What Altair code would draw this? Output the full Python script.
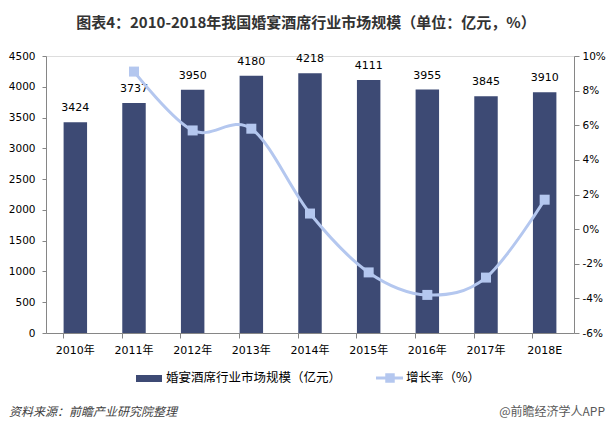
import altair as alt
import pandas as pd

years = ["2010年", "2011年", "2012年", "2013年", "2014年", "2015年", "2016年", "2017年", "2018E"]
market = [3424, 3737, 3950, 4180, 4218, 4111, 3955, 3845, 3910]
growth = [None, 9.1, 5.7, 5.8, 0.9, -2.5, -3.8, -2.8, 1.7]

BAR = "#3d4a74"
LINE = "#b4c7ef"
AXIS = "#868686"
FONT = "DejaVu Sans, Noto Sans CJK SC"
CJK = "Noto Sans CJK SC, DejaVu Sans"

bar_df = pd.DataFrame({"year": years, "value": market})
line_df = pd.DataFrame({"year": years, "rate": growth}).dropna()

W, H = 528, 277

xscale = alt.Scale(domain=years, paddingInner=0.6, paddingOuter=0.3)

ax_x_labels = alt.Axis(orient="bottom", labelAngle=0, ticks=False, domain=True, domainColor=AXIS,
                       labelFont=FONT, labelFontSize=11, labelColor="#000", labelPadding=11, grid=False)
ax_x_ticks = alt.Axis(orient="bottom", labels=False, ticks=True, domain=False, bandPosition=0,
                      tickColor=AXIS, tickSize=5, grid=False)
ax_left = alt.Axis(orient="left", values=list(range(0, 4501, 500)), grid=False, format="d",
                   domainColor=AXIS, tickColor=AXIS, tickSize=4, labelPadding=7,
                   labelFont=FONT, labelFontSize=10.5, labelColor="#000")
ax_right = alt.Axis(orient="right", values=list(range(-6, 11, 2)), grid=False,
                    labelExpr="datum.value + '%'",
                    domainColor=AXIS, tickColor=AXIS, tickSize=5, labelPadding=3,
                    labelFont=FONT, labelFontSize=10.5, labelColor="#000")

def xl():
    return alt.X("year:N", scale=xscale, sort=years, title=None, axis=ax_x_labels)

def xt():
    return alt.X("year:N", scale=xscale, sort=years, title=None, axis=ax_x_ticks)

def yl():
    return alt.Y("value:Q", scale=alt.Scale(domain=[0, 4500], nice=False), title=None, axis=ax_left)

def yr():
    return alt.Y("rate:Q", scale=alt.Scale(domain=[-6, 10], nice=False), title=None, axis=ax_right)

bars = alt.Chart(bar_df).mark_bar(color=BAR).encode(x=xl(), y=yl())
bar_text = alt.Chart(bar_df).mark_text(font=FONT, fontSize=11, color="#000", dy=-14,
                                       baseline="middle").encode(x=xl(), y=yl(), text="value:Q")
bar_layer = alt.layer(bars, bar_text)

line = alt.Chart(line_df).mark_line(color=LINE, strokeWidth=3, interpolate="cardinal").encode(x=xt(), y=yr())
pts = alt.Chart(line_df).mark_point(shape="square", filled=True, size=100, color=LINE,
                                    opacity=1).encode(x=xt(), y=yr())
line_layer = alt.layer(line, pts)

one = pd.DataFrame({"a": [0]})

def txt(s, x, y, **kw):
    return alt.Chart(one).mark_text(baseline="middle", **kw).encode(
        x=alt.value(x), y=alt.value(y), text=alt.value(s))

title = txt("图表4：2010-2018年我国婚宴酒席行业市场规模（单位：亿元，%）", 260, -33,
            font=CJK, fontSize=15, fontWeight="bold", color="#333333", align="center")
leg_rect = alt.Chart(one).mark_rect(color=BAR).encode(
    x=alt.value(90), x2=alt.value(116), y=alt.value(319), y2=alt.value(326))
leg_t1 = txt("婚宴酒席行业市场规模（亿元）", 120, 322, font=CJK, fontSize=12.5, color="#000", align="left")
leg_line = alt.Chart(one).mark_rule(color=LINE, strokeWidth=3).encode(
    x=alt.value(330), x2=alt.value(357), y=alt.value(322))
leg_sq = alt.Chart(one).mark_point(shape="square", filled=True, size=90, color=LINE, opacity=1).encode(
    x=alt.value(344), y=alt.value(322))
leg_t2 = txt("增长率（%）", 360, 322, font=CJK, fontSize=12.5, color="#000", align="left")
src = txt("资料来源：前瞻产业研究院整理", -37, 356, font=CJK, fontSize=12, fontStyle="italic",
          color="#404040", align="left")
brand = txt("@前瞻经济学人APP", 559, 356, font=CJK, fontSize=12, color="#595959", align="right")

chart = alt.layer(
    bar_layer, line_layer, title, leg_rect, leg_t1, leg_line, leg_sq, leg_t2, src, brand
).resolve_scale(y="independent").resolve_axis(x="independent", y="independent").properties(
    width=W, height=H,
    autosize=alt.AutoSizeParams(type="none"),
    padding={"left": 38, "top": 48, "right": 32, "bottom": 87},
).configure_view(stroke=None).configure(background="white")

chart.save("out.html", embed_options={"renderer": "svg", "actions": False})
